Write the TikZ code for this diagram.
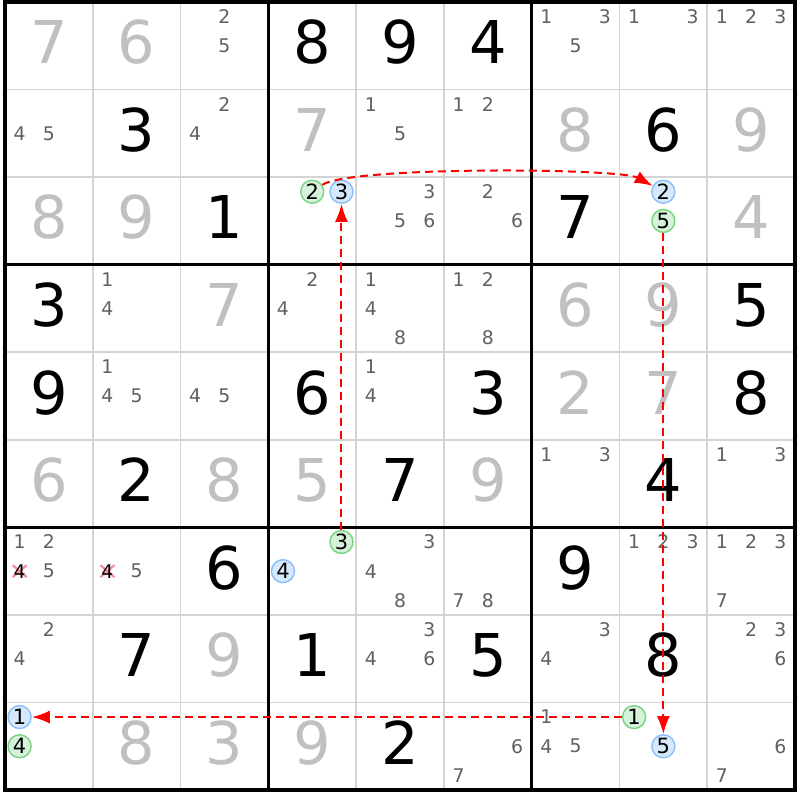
\documentclass[tikz,border=0pt]{standalone}
\usepackage{fontspec}
\setmainfont{DejaVu Sans}
\usetikzlibrary{arrows.meta}
\pgfdeclarelayer{background}
\pgfsetlayers{background,main}
\definecolor{solved}{RGB}{192,192,192}
\definecolor{candc}{RGB}{96,96,96}
\definecolor{thinc}{RGB}{212,212,212}
\definecolor{bfill}{RGB}{214,233,252}
\definecolor{bline}{RGB}{140,190,245}
\definecolor{gfill}{RGB}{214,242,218}
\definecolor{gline}{RGB}{120,210,130}
\definecolor{xcol}{RGB}{245,140,160}
\definecolor{linkred}{RGB}{255,0,0}
\tikzset{
  given/.style={inner sep=0pt, font=\fontsize{29.5}{31}\selectfont, text=black},
  solvd/.style={given, text=solved},
  cand/.style={inner sep=0pt, font=\fontsize{9.4}{10}\selectfont, text=candc},
  candk/.style={cand, text=black},
  candb/.style={cand, text=black, font=\fontsize{10.5}{11}\selectfont, circle, draw=bline, fill=bfill, minimum size=11.5pt, line width=0.7pt},
  candg/.style={candb, draw=gline, fill=gfill},
  thinl/.style={draw=thinc, line width=0.85pt},
  thickl/.style={draw=black, line width=1.6pt, line cap=rect},
  xstrike/.style={draw=xcol, line width=1.1pt},
  link/.style={draw=linkred, line width=1pt, dash pattern=on 4pt off 2.5pt, -{Latex[length=9pt,width=6.5pt]}},
}
\newcommand\cnd[4][cand]{%
  \pgfmathtruncatemacro\kx{mod(#4-1,3)}%
  \pgfmathtruncatemacro\ky{int((#4-1)/3)}%
  \node[#1] (c#2-#3-#4) at ({5+(#3+(2*\kx+1)/6)*87.78},{2+(#2+(2*\ky+1)/6)*87.56}) {#4};}
\newcommand\cnds[3]{\foreach \dd in {#3}{\cnd{#1}{#2}{\dd}}}
\newcommand\bd[4]{\node[#1] (n#2-#3) at ({5+(#3+0.5)*87.78},{2+(#2+0.5)*87.56-3.5}) {#4};}
\begin{document}
\begin{tikzpicture}[x=0.5pt,y=-0.5pt]
\begin{pgfonlayer}{background}
\fill[white] (0,0) rectangle (800,800);
\end{pgfonlayer}
\useasboundingbox (0,0) rectangle (800,800);
% grid
\foreach \i in {1,2,4,5,7,8}{
  \draw[thinl] ({5+\i*87.78},2) -- ({5+\i*87.78},790);
  \draw[thinl] (5,{2+\i*87.56}) -- (795,{2+\i*87.56});
}
\foreach \i in {0,3,6,9}{
  \draw[thickl] ({5+\i*87.78},2) -- ({5+\i*87.78},790);
  \draw[thickl] (5,{2+\i*87.56}) -- (795,{2+\i*87.56});
}
% givens
\bd{given}{0}{3}{8}\bd{given}{0}{4}{9}\bd{given}{0}{5}{4}
\bd{given}{1}{1}{3}\bd{given}{1}{7}{6}
\bd{given}{2}{2}{1}\bd{given}{2}{6}{7}
\bd{given}{3}{0}{3}\bd{given}{3}{8}{5}
\bd{given}{4}{0}{9}\bd{given}{4}{3}{6}\bd{given}{4}{5}{3}\bd{given}{4}{8}{8}
\bd{given}{5}{1}{2}\bd{given}{5}{4}{7}\bd{given}{5}{7}{4}
\bd{given}{6}{2}{6}\bd{given}{6}{6}{9}
\bd{given}{7}{1}{7}\bd{given}{7}{3}{1}\bd{given}{7}{5}{5}\bd{given}{7}{7}{8}
\bd{given}{8}{4}{2}
% solved
\bd{solvd}{0}{0}{7}\bd{solvd}{0}{1}{6}
\bd{solvd}{1}{3}{7}\bd{solvd}{1}{6}{8}\bd{solvd}{1}{8}{9}
\bd{solvd}{2}{0}{8}\bd{solvd}{2}{1}{9}\bd{solvd}{2}{8}{4}
\bd{solvd}{3}{2}{7}\bd{solvd}{3}{6}{6}\bd{solvd}{3}{7}{9}
\bd{solvd}{4}{6}{2}\bd{solvd}{4}{7}{7}
\bd{solvd}{5}{0}{6}\bd{solvd}{5}{2}{8}\bd{solvd}{5}{3}{5}\bd{solvd}{5}{5}{9}
\bd{solvd}{7}{2}{9}
\bd{solvd}{8}{1}{8}\bd{solvd}{8}{2}{3}\bd{solvd}{8}{3}{9}
% candidates
\cnds{0}{2}{2,5}\cnds{0}{6}{1,3,5}\cnds{0}{7}{1,3}\cnds{0}{8}{1,2,3}
\cnds{1}{0}{4,5}\cnds{1}{2}{2,4}\cnds{1}{4}{1,5}\cnds{1}{5}{1,2}
\cnd[candg]{2}{3}{2}\cnd[candb]{2}{3}{3}
\cnds{2}{4}{3,5,6}\cnds{2}{5}{2,6}
\cnd[candb]{2}{7}{2}\cnd[candg]{2}{7}{5}
\cnds{3}{1}{1,4}\cnds{3}{3}{2,4}\cnds{3}{4}{1,4,8}\cnds{3}{5}{1,2,8}
\cnds{4}{1}{1,4,5}\cnds{4}{2}{4,5}\cnds{4}{4}{1,4}
\cnds{5}{6}{1,3}\cnds{5}{8}{1,3}
\cnds{6}{0}{1,2,5}\cnd[candk]{6}{0}{4}
\cnds{6}{1}{5}\cnd[candk]{6}{1}{4}
\cnd[candg]{6}{3}{3}\cnd[candb]{6}{3}{4}
\cnds{6}{4}{3,4,8}\cnds{6}{5}{7,8}\cnds{6}{7}{1,2,3}\cnds{6}{8}{1,2,3,7}
\cnds{7}{0}{2,4}\cnds{7}{4}{3,4,6}\cnds{7}{6}{3,4}\cnds{7}{8}{2,3,6}
\cnd[candb]{8}{0}{1}\cnd[candg]{8}{0}{4}
\cnds{8}{5}{6,7}\cnds{8}{6}{1,4,5}
\cnd[candg]{8}{7}{1}\cnd[candb]{8}{7}{5}
\cnds{8}{8}{6,7}
% eliminations
\begin{pgfonlayer}{background}
\foreach \nm in {c6-0-4,c6-1-4}{
  \draw[xstrike] (\nm.center) ++(-7,-6) -- ++(14,12);
  \draw[xstrike] (\nm.center) ++(-7,6) -- ++(14,-12);
}
\end{pgfonlayer}
% links
\draw[link] (c6-3-3) -- (c2-3-3);
\draw[link] (c2-3-2) .. controls (350,166) and (620,168) .. (c2-7-2);
\draw[link] (c2-7-5) -- (c8-7-5);
\draw[link] (c8-7-1) -- (c8-0-1);
\end{tikzpicture}
\end{document}
